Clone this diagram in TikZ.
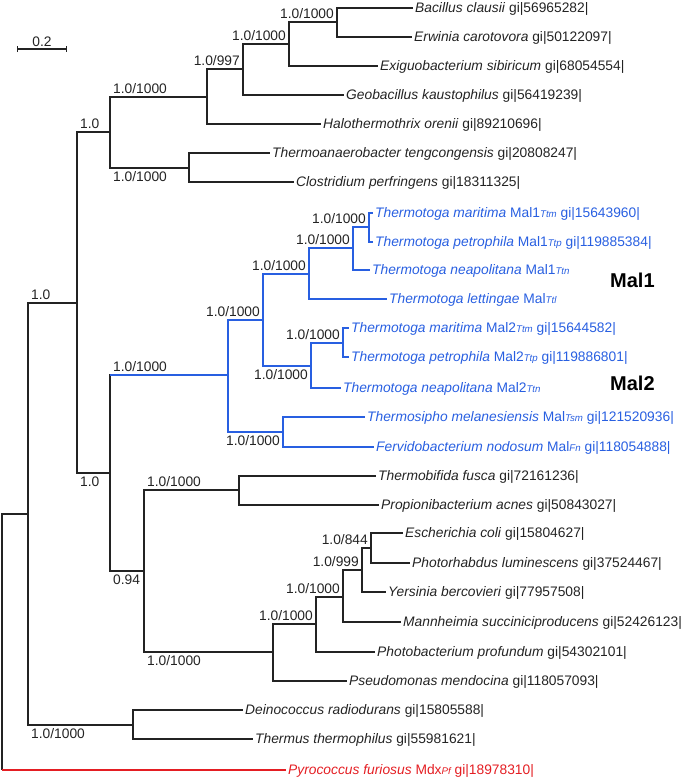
\documentclass[tikz,border=0pt]{standalone}
\usepackage{fontspec}
\setmainfont{Liberation Sans}
\usetikzlibrary{arrows.meta}

\definecolor{treegray}{RGB}{35,35,35}
\definecolor{malblue}{RGB}{40,95,225}
\definecolor{pfred}{RGB}{228,30,35}

% small italic tag after Mal/Mdx
\newcommand{\tx}[1]{{\fontsize{9.7}{11}\selectfont\itshape #1}}

\begin{document}
\begin{tikzpicture}[
    x=1pt, y=-1pt,
    font=\fontsize{13.8}{16}\selectfont,
    branch/.style={draw, color=treegray, line width=1.1pt},
    leaf/.style={anchor=west, inner sep=2pt, text height=10.5pt, text depth=2.5pt, text=treegray},
    malleaf/.style={leaf, text=malblue},
    support/.style={inner sep=3pt, text height=9.9pt, text depth=0pt, text=treegray},
    clade/.style={anchor=west, inner sep=2pt, font=\fontsize{20}{24}\selectfont\bfseries}
]
\useasboundingbox (0,0) rectangle (685,777);

% Internal nodes
\coordinate (root) at (2,642);
\coordinate (nA) at (28,514);
\coordinate (nB) at (77,303);
\coordinate (nC) at (110,132);
\coordinate (n4) at (207,97);
\coordinate (n3) at (243,69);
\coordinate (n2) at (289,44);
\coordinate (n1) at (337,22);
\coordinate (n5) at (189,168);
\coordinate (nE) at (110,473);
\coordinate (nM) at (228,375);
\coordinate (nQ) at (263,320);
\coordinate (nS) at (309,274);
\coordinate (nU) at (353,248);
\coordinate (nV) at (369,227);
\coordinate (nT) at (311,366);
\coordinate (nW) at (343,343);
\coordinate (nR) at (283,432);
\coordinate (nP) at (144,571);
\coordinate (nX) at (239,490);
\coordinate (nY) at (273,652);
\coordinate (nZ) at (316,624);
\coordinate (nAA) at (343,597);
\coordinate (nAB) at (362,570);
\coordinate (nAC) at (371,548);
\coordinate (nD) at (133,725);

% Leaves
\node[leaf] (bcla) at (413,8) {\textit{Bacillus clausii} gi|56965282|};
\node[leaf] (ecar) at (412,37) {\textit{Erwinia carotovora} gi|50122097|};
\node[leaf] (esib) at (378,66) {\textit{Exiguobacterium sibiricum} gi|68054554|};
\node[leaf] (gkau) at (344,95) {\textit{Geobacillus kaustophilus} gi|56419239|};
\node[leaf] (halo) at (321,124) {\textit{Halothermothrix orenii} gi|89210696|};
\node[leaf] (tten) at (270,153) {\textit{Thermoanaerobacter tengcongensis} gi|20808247|};
\node[leaf] (cper) at (294,182) {\textit{Clostridium perfringens} gi|18311325|};
\node[malleaf] (tmar1) at (373,213) {\textit{Thermotoga maritima} Mal1\tx{Ttm} gi|15643960|};
\node[malleaf] (tpet1) at (373,242) {\textit{Thermotoga petrophila} Mal1\tx{Ttp} gi|119885384|};
\node[malleaf] (tneap1) at (370,270) {\textit{Thermotoga neapolitana} Mal1\tx{Ttn}};
\node[malleaf] (tlet) at (387,299) {\textit{Thermotoga lettingae} Mal\tx{Ttl}};
\node[malleaf] (tmar2) at (349,328) {\textit{Thermotoga maritima} Mal2\tx{Ttm} gi|15644582|};
\node[malleaf] (tpet2) at (349,357) {\textit{Thermotoga petrophila} Mal2\tx{Ttp} gi|119886801|};
\node[malleaf] (tneap2) at (341,388) {\textit{Thermotoga neapolitana} Mal2\tx{Ttn}};
\node[malleaf] (tmel) at (365,417) {\textit{Thermosipho melanesiensis} Mal\tx{Tsm} gi|121520936|};
\node[malleaf] (fnod) at (374,447) {\textit{Fervidobacterium nodosum} Mal\tx{Fn} gi|118054888|};
\node[leaf] (tfus) at (376,476) {\textit{Thermobifida fusca} gi|72161236|};
\node[leaf] (pacn) at (379,505) {\textit{Propionibacterium acnes} gi|50843027|};
\node[leaf] (ecol) at (403,533) {\textit{Escherichia coli} gi|15804627|};
\node[leaf] (plum) at (410,563) {\textit{Photorhabdus luminescens} gi|37524467|};
\node[leaf] (yber) at (386,592) {\textit{Yersinia bercovieri} gi|77957508|};
\node[leaf] (msuc) at (401,622) {\textit{Mannheimia succiniciproducens} gi|52426123|};
\node[leaf] (ppro) at (375,652) {\textit{Photobacterium profundum} gi|54302101|};
\node[leaf] (pmen) at (347,681) {\textit{Pseudomonas mendocina} gi|118057093|};
\node[leaf] (drad) at (243,710) {\textit{Deinococcus radiodurans} gi|15805588|};
\node[leaf] (tthe) at (253,739) {\textit{Thermus thermophilus} gi|55981621|};
\node[leaf, text=pfred] (pfur) at (286,770) {\textit{Pyrococcus furiosus} Mdx\tx{Pf} gi|18978310|};

% Clade names
\node[clade] (mal1) at (608,280) {Mal1};
\node[clade] (mal2) at (608,383) {Mal2};

% Branches
\foreach \p/\c in {root/nA, nA/nB, nA/nD, nB/nC, nB/nE, nC/n4, nC/n5, n4/n3, n4/halo,
    n3/n2, n3/gkau, n2/n1, n2/esib, n1/bcla, n1/ecar, n5/tten, n5/cper, nE/nM, nE/nP,
    nP/nX, nP/nY, nX/tfus, nX/pacn, nY/nZ, nY/pmen, nZ/nAA, nZ/ppro, nAA/nAB, nAA/msuc,
    nAB/nAC, nAB/yber, nAC/ecol, nAC/plum, nD/drad, nD/tthe}
  \draw[branch] (\p) |- (\c);

% Mal clade in blue
\draw[branch, draw=malblue] (nE |- nM) -- (nM);
\foreach \p/\c in {nM/nQ, nM/nR, nQ/nS, nQ/nT, nS/nU, nS/tlet, nU/nV, nU/tneap1,
    nV/tmar1, nV/tpet1, nT/nW, nT/tneap2, nW/tmar2, nW/tpet2, nR/tmel, nR/fnod}
  \draw[branch, draw=malblue] (\p) |- (\c);

% outgroup
\draw[branch] (root) -- (root |- pfur);
\draw[branch, draw=pfred] (root |- pfur) -- (pfur);

% Support values
\node[support, above left] (s1) at (n1) {1.0/1000};
\node[support, above left] (s2) at (n2) {1.0/1000};
\node[support, above left] (s3) at (n3) {1.0/997};
\node[support, above right] (s4) at (nC |- n4) {1.0/1000};
\node[support, below right] (s5) at (nC |- n5) {1.0/1000};
\node[support, above right] (sC) at (nB |- nC) {1.0};
\node[support, below right] (sE) at (nB |- nE) {1.0};
\node[support, above right] (sB) at (nA |- nB) {1.0};
\node[support, below right] (sD) at (nA |- nD) {1.0/1000};
\node[support, above right] (sM) at (nE |- nM) {1.0/1000};
\node[support, below right] (sP) at (nE |- nP) {0.94};
\node[support, above left] (sQ) at (nQ) {1.0/1000};
\node[support, below left] (sR) at (nR) {1.0/1000};
\node[support, above left] (sS) at (nS) {1.0/1000};
\node[support, below left] (sT) at (nT) {1.0/1000};
\node[support, above left] (sU) at (nU) {1.0/1000};
\node[support, above left] (sV) at (nV) {1.0/1000};
\node[support, above left] (sW) at (nW) {1.0/1000};
\node[support, above right] (sX) at (nP |- nX) {1.0/1000};
\node[support, below right] (sY) at (nP |- nY) {1.0/1000};
\node[support, above left] (sZ) at (nZ) {1.0/1000};
\node[support, above left] (sAA) at (nAA) {1.0/1000};
\node[support, above left] (sAB) at (nAB) {1.0/999};
\node[support, above left] (sAC) at (nAC) {1.0/844};

% Scale bar
\coordinate (sbl) at (17,49);
\coordinate (sbr) at (67,49);
\draw[branch, {Bar[width=6pt]}-{Bar[width=6pt]}] (sbl) -- node[support, above, inner sep=1.5pt] (sblab) {0.2} (sbr);

\end{tikzpicture}
\end{document}
